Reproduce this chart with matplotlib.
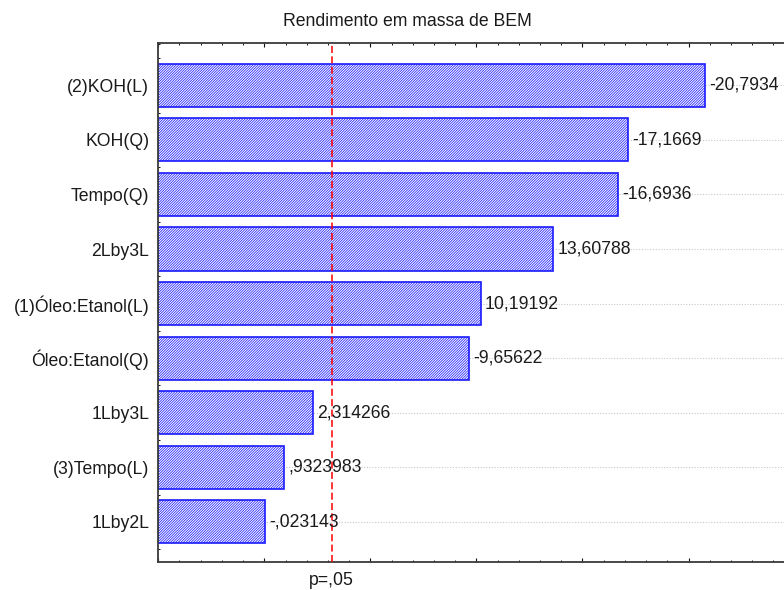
# Pareto chart of standardized effects - Rendimento em massa de BEM

import matplotlib
matplotlib.use('Agg')
import matplotlib.pyplot as plt
from matplotlib.ticker import MultipleLocator

plt.rcParams['font.family'] = ['Liberation Sans', 'DejaVu Sans']
plt.rcParams['hatch.linewidth'] = 0.55

# data (effects, top to bottom)
factors = ['(2)KOH(L)', 'KOH(Q)', 'Tempo(Q)', '2Lby3L', '(1)Óleo:Etanol(L)',
           'Óleo:Etanol(Q)', '1Lby3L', '(3)Tempo(L)', '1Lby2L']
effects = [-20.7934, -17.1669, -16.6936, 13.60788, 10.19192,
           -9.65622, 2.314266, 0.9323983, -0.023143]
t_crit = 3.1824   # p=,05
title = 'Rendimento em massa de BEM'
p_label = 'p=,05'

x_min, x_max = -5, 25


def fmtEffect(v):
    """Statistica style number: comma decimal, no leading zero"""
    s = f'{v:.7g}'
    if s.startswith('0.'):
        s = s[1:]
    elif s.startswith('-0.'):
        s = '-' + s[2:]
    return s.replace('.', ',')


fig = plt.figure(figsize=(7.84, 5.90), dpi=100)
ax = fig.add_axes([0.2019, 0.0475, 1.0135 - 0.2019, 0.879])

ypos = list(range(len(factors)))
widths = [abs(v) - x_min for v in effects]

# dotted guide lines behind the bars
for y in ypos:
    ax.axhline(y, color='#c8c8c8', linestyle=(0, (1, 1.5)), linewidth=0.8, zorder=0)

ax.barh(ypos, widths, left=x_min, height=0.79, color='white',
        edgecolor='#1a1aff', hatch='/' * 13, linewidth=1.2, zorder=2)

for y, v in zip(ypos, effects):
    ax.annotate(fmtEffect(v), xy=(abs(v), y), xytext=(3, 0), textcoords='offset points',
                ha='left', va='center', fontsize=12.7, color='#1a1a1a', zorder=4)

ax.axvline(t_crit, color='#ff0000', linewidth=1.1, dashes=(4.6, 2.2), zorder=3)
ax.annotate(p_label, xy=(t_crit, 0), xycoords=('data', 'axes fraction'),
            xytext=(0, -7.5), textcoords='offset points', ha='center', va='top',
            fontsize=12.7, color='#1a1a1a')

ax.set_xlim(x_min, x_max)
ax.set_ylim(len(factors) - 1 + 0.736, -0.77)

ax.set_yticks(ypos)
ax.set_yticklabels(factors, fontsize=12.7, color='#1a1a1a')
ax.yaxis.set_minor_locator(MultipleLocator(0.25))
ax.xaxis.set_major_locator(MultipleLocator(5))
ax.xaxis.set_minor_locator(MultipleLocator(1))
ax.set_xticklabels([])

ax.tick_params(axis='both', which='major', direction='in', length=2.9, width=0.8,
               color='#111111', top=True, bottom=True)
ax.tick_params(axis='both', which='minor', direction='in', length=1.7, width=0.7,
               color='#111111', top=True, bottom=True)
ax.tick_params(axis='y', which='major', pad=6.5)

for side in ['left', 'bottom', 'top', 'right']:
    ax.spines[side].set_color('#3a3a3a')
    ax.spines[side].set_linewidth(1.3)

fig.text(407 / 784, 1 - 22 / 590, title, ha='center', va='center',
         fontsize=12.7, color='#1a1a1a')

fig.savefig('out.png', dpi=100)
